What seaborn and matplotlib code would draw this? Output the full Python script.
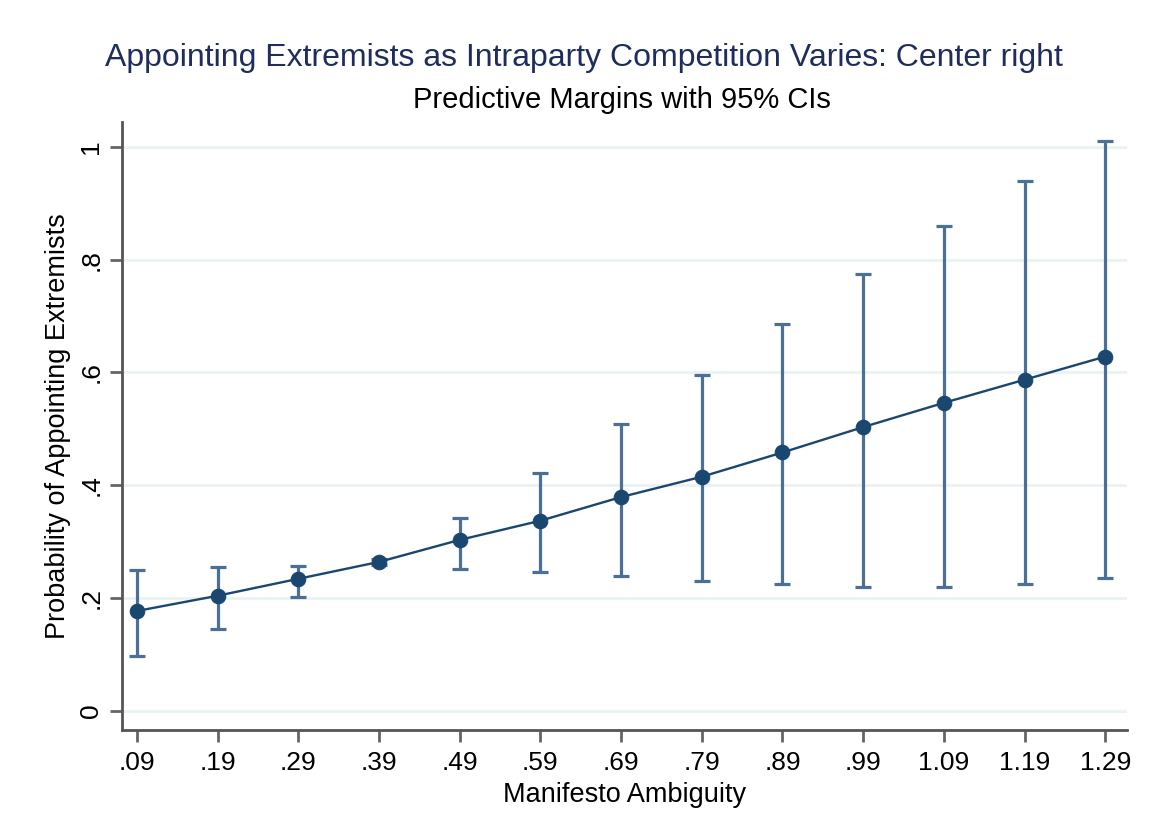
import numpy as np
import pandas as pd
import seaborn as sns
import matplotlib.pyplot as plt

# values
ambiguity = [0.09, 0.19, 0.29, 0.39, 0.49, 0.59, 0.69, 0.79, 0.89, 0.99, 1.09, 1.19, 1.29]
margin = [0.177, 0.204, 0.234, 0.264, 0.303, 0.337, 0.379, 0.415, 0.458, 0.503, 0.546, 0.587, 0.628]
ci_low = [0.098, 0.145, 0.202, 0.258, 0.252, 0.246, 0.239, 0.230, 0.225, 0.220, 0.220, 0.225, 0.236]
ci_high = [0.250, 0.255, 0.257, 0.270, 0.342, 0.422, 0.509, 0.596, 0.686, 0.775, 0.860, 0.940, 1.011]
x_labels = [".09", ".19", ".29", ".39", ".49", ".59", ".69", ".79", ".89", ".99", "1.09", "1.19", "1.29"]
y_ticks = [0, 0.2, 0.4, 0.6, 0.8, 1.0]
y_labels = ["0", ".2", ".4", ".6", ".8", "1"]

df = pd.DataFrame({"ambiguity": ambiguity, "margin": margin,
                   "low": ci_low, "high": ci_high})

sns.set_style("white")
plt.rcParams['font.family'] = ['Liberation Sans', 'DejaVu Sans']

navy = "#1a476f"
cap_col = "#4a7098"

fig = plt.figure(figsize=(11.5, 8.4), dpi=100)
ax = fig.add_axes([0.1061, 0.131, 0.8739, 0.7238])

# light horizontal grid at the y ticks
for yt in y_ticks:
    ax.axhline(yt, color="#eaf2f3", lw=2, zorder=0)

# 95% CIs as capped bars, then the margins line with markers
ax.errorbar(df["ambiguity"], df["margin"],
            yerr=[df["margin"] - df["low"], df["high"] - df["margin"]],
            fmt="none", ecolor=cap_col, elinewidth=2.3, capsize=6, capthick=2.3, zorder=2)
sns.lineplot(data=df, x="ambiguity", y="margin", ax=ax, color=navy, lw=1.7,
             marker="o", markersize=10.5, markeredgecolor=navy, zorder=3)

ax.set_xlim(0.0714, 1.317)
ax.set_ylim(-0.034, 1.044)
ax.set_xticks(ambiguity)
ax.set_xticklabels(x_labels, fontsize=19)
ax.set_yticks(y_ticks)
ax.set_yticklabels(y_labels, fontsize=19, rotation=90, va="center")
ax.tick_params(axis="both", which="major", bottom=True, left=True, direction="out",
               length=8.5, width=2, color="#666666", labelcolor="black", pad=5)
ax.tick_params(axis="x", pad=7)

for side in ["top", "right"]:
    ax.spines[side].set_visible(False)
for side in ["left", "bottom"]:
    ax.spines[side].set_color("#555555")
    ax.spines[side].set_linewidth(2)

ax.set_xlabel("Manifesto Ambiguity", fontsize=19.5, labelpad=5, color="black")
ax.set_ylabel("Probability of Appointing Extremists", fontsize=19.5, labelpad=6, color="black")

fig.text(0.508, 0.931, "Appointing Extremists as Intraparty Competition Varies: Center right",
         ha="center", va="center", fontsize=23, color="#1e2d5c")
fig.text(0.541, 0.881, "Predictive Margins with 95% CIs",
         ha="center", va="center", fontsize=21, color="black")

fig.savefig("out.png", dpi=100)
